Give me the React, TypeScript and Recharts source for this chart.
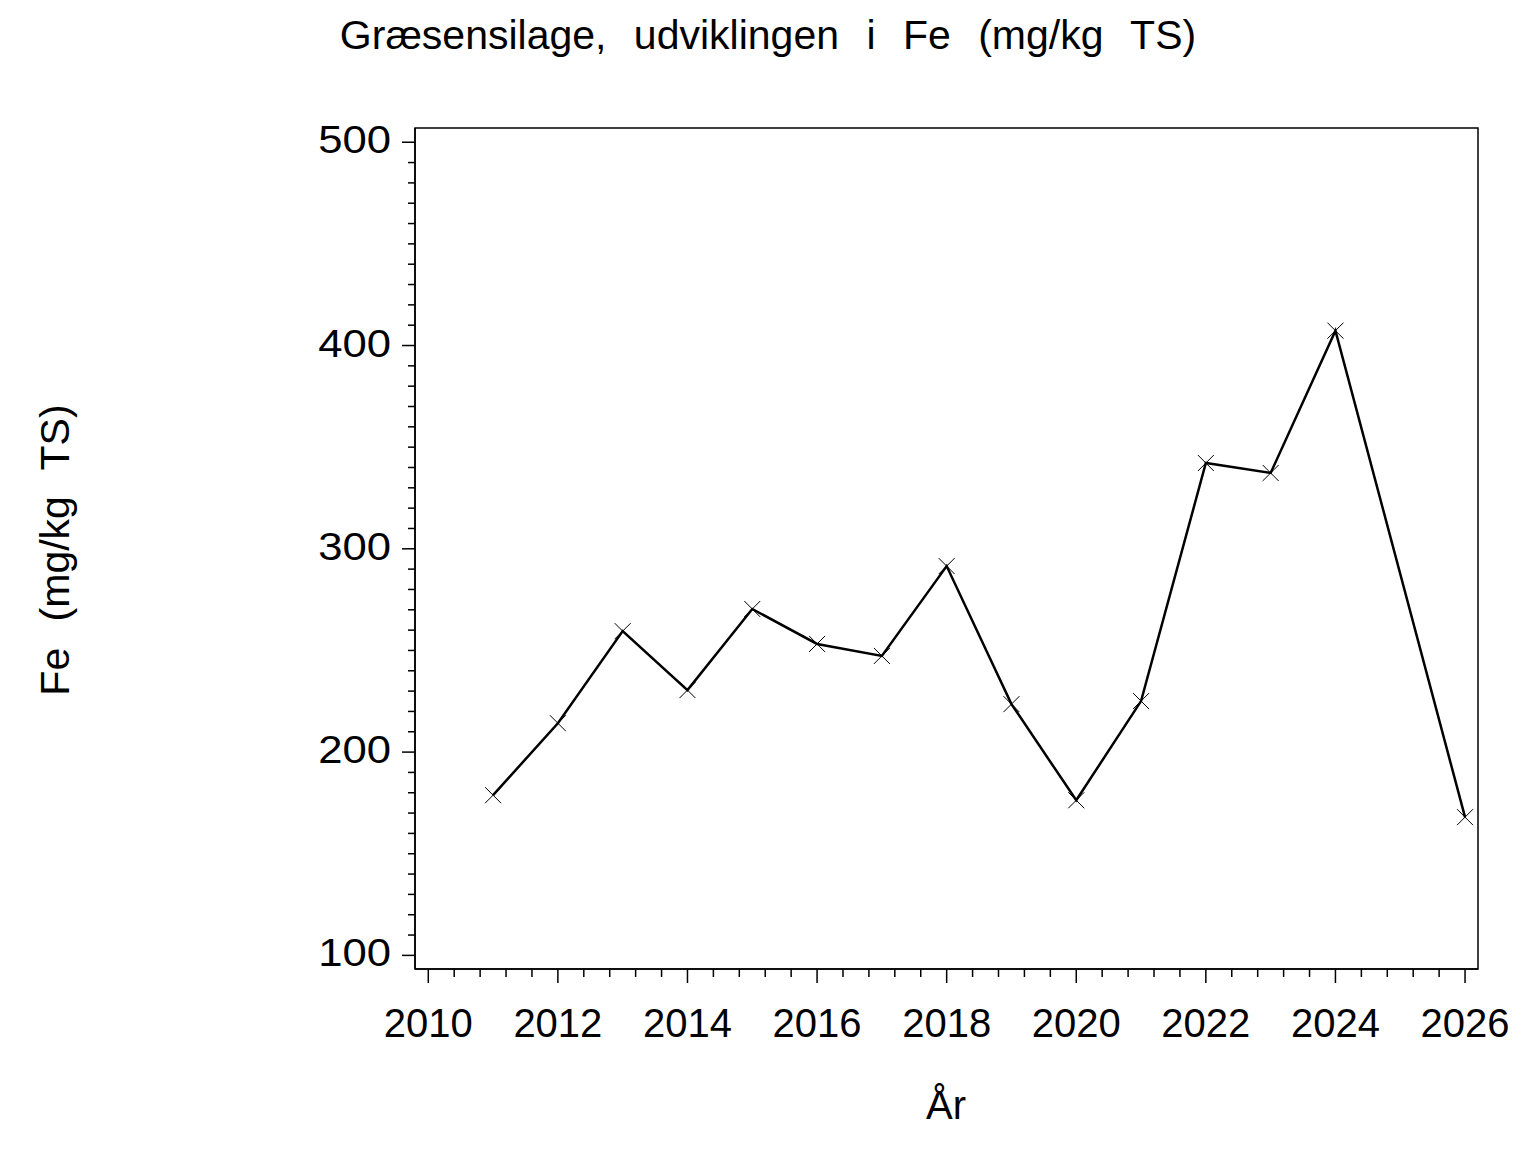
import React from "react";
import {
  LineChart,
  Line,
  XAxis,
  YAxis,
  ReferenceArea,
} from "recharts";

// years with a measurement (2025 is missing in the source)
const years = [
  2011, 2012, 2013, 2014, 2015, 2016, 2017, 2018, 2019, 2020, 2021, 2022,
  2023, 2024, 2026,
];
const feValues = [
  178.8, 214.2, 259.5, 230.5, 270.4, 253.2, 247.3, 291.5, 223.6, 176.3, 225.1,
  342.2, 337.3, 407.3, 168.0,
];

const xMajorTicks = [2010, 2012, 2014, 2016, 2018, 2020, 2022, 2024, 2026];
const yMajorTicks = [100, 200, 300, 400, 500];

const xDomain = [2009.795, 2026.2];
const yDomain = [93.3, 507];

const data = years.map((year, i) => ({ year, fe: feValues[i] }));

// minor ticks: 5 steps between x majors, 10 steps between y majors
const xTicks: number[] = [];
for (let i = 0; i < xMajorTicks.length - 1; i++) {
  const a = xMajorTicks[i];
  const b = xMajorTicks[i + 1];
  for (let k = 0; k < 5; k++) xTicks.push(+(a + ((b - a) * k) / 5).toFixed(4));
}
xTicks.push(xMajorTicks[xMajorTicks.length - 1]);

const yTicks: number[] = [];
for (let i = 0; i < yMajorTicks.length - 1; i++) {
  const a = yMajorTicks[i];
  const b = yMajorTicks[i + 1];
  for (let k = 0; k < 10; k++) yTicks.push(a + ((b - a) * k) / 10);
}
yTicks.push(yMajorTicks[yMajorTicks.length - 1]);

const FONT = "'Liberation Sans', Arial, Helvetica, sans-serif";

const XTick = ({ x, y, payload }: any) => {
  const v = payload.value;
  const major = xMajorTicks.includes(v);
  return (
    <g>
      <line x1={x} y1={y} x2={x} y2={y + (major ? 14 : 8)} stroke="#000" strokeWidth={1.5} />
      {major && (
        <text x={x} y={y + 68} textAnchor="middle" fontSize={40} fontFamily={FONT} fill="#000">
          {v}
        </text>
      )}
    </g>
  );
};

const YTick = ({ x, y, payload }: any) => {
  const v = payload.value;
  const major = yMajorTicks.includes(v);
  return (
    <g>
      <line x1={x} y1={y} x2={x - (major ? 13 : 7)} y2={y} stroke="#000" strokeWidth={1.5} />
      {major && (
        <text
          transform={`translate(${x - 24},${y + 11}) scale(1.12,1)`}
          textAnchor="end"
          fontSize={39}
          fontFamily={FONT}
          fill="#000"
        >
          {v}
        </text>
      )}
    </g>
  );
};

const CrossDot = ({ cx, cy, index }: any) => {
  if (cx == null || cy == null) return null;
  const s = 8;
  return (
    <path
      key={index}
      d={`M${cx - s},${cy - s}L${cx + s},${cy + s}M${cx - s},${cy + s}L${cx + s},${cy - s}`}
      stroke="#000"
      strokeWidth={1}
      fill="none"
    />
  );
};

export default function App() {
  return (
    <div style={{ position: "absolute", left: 0, top: 0, width: 1536, height: 1152, background: "#fff", fontFamily: FONT }}>
      <div
        style={{
          position: "absolute",
          top: 12,
          left: 0,
          width: 1536,
          textAlign: "center",
          fontSize: 41,
          wordSpacing: 16,
          whiteSpace: "pre",
          color: "#000",
        }}
      >
        Græsensilage, udviklingen i Fe (mg/kg TS)
      </div>
      <div
        style={{
          position: "absolute",
          left: 55,
          top: 550,
          transform: "translate(-50%, -50%) rotate(-90deg)",
          fontSize: 41,
          wordSpacing: 15,
          whiteSpace: "pre",
          color: "#000",
        }}
      >
        Fe (mg/kg TS)
      </div>
      <div
        style={{
          position: "absolute",
          left: 946,
          top: 1083,
          transform: "translateX(-50%)",
          fontSize: 40,
          whiteSpace: "pre",
          color: "#000",
        }}
      >
        År
      </div>
      <LineChart
        width={1536}
        height={1152}
        data={data}
        margin={{ top: 128, right: 58, left: 315, bottom: 83 }}
      >
        <XAxis
          dataKey="year"
          type="number"
          domain={xDomain}
          ticks={xTicks}
          interval={0}
          allowDataOverflow
          height={100}
          tickSize={0}
          tickMargin={0}
          tickLine={false}
          axisLine={{ stroke: "#000", strokeWidth: 1.5 }}
          tick={(p: any) => <XTick {...p} />}
        />
        <YAxis
          type="number"
          domain={yDomain}
          ticks={yTicks}
          interval={0}
          allowDataOverflow
          width={100}
          tickSize={0}
          tickMargin={0}
          tickLine={false}
          axisLine={{ stroke: "#000", strokeWidth: 1.5 }}
          tick={(p: any) => <YTick {...p} />}
        />
        <ReferenceArea
          x1={xDomain[0]}
          x2={xDomain[1]}
          y1={yDomain[0]}
          y2={yDomain[1]}
          fill="none"
          stroke="#000"
          strokeWidth={1.5}
          ifOverflow="visible"
        />
        <Line
          type="linear"
          dataKey="fe"
          stroke="#000"
          strokeWidth={2.5}
          dot={(p: any) => <CrossDot key={p.index} {...p} />}
          activeDot={false}
          isAnimationActive={false}
        />
      </LineChart>
    </div>
  );
}
